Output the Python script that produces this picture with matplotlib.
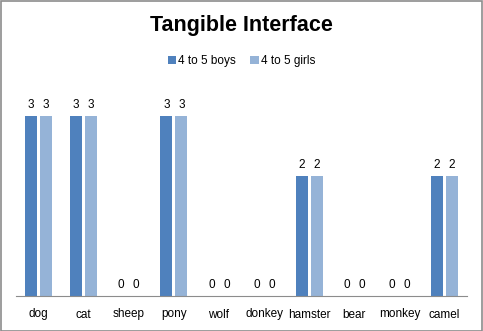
import numpy as np
import matplotlib
matplotlib.use("Agg")
import matplotlib.pyplot as plt
from matplotlib.patches import Rectangle

# data
animals = ["dog", "cat", "sheep", "pony", "wolf", "donkey", "hamster", "bear", "monkey", "camel"]
boys = [3, 3, 0, 3, 0, 0, 2, 0, 0, 2]
girls = [3, 3, 0, 3, 0, 0, 2, 0, 0, 2]
series_names = ["4 to 5 boys", "4 to 5 girls"]
colors = ["#4F81BD", "#95B3D7"]

plt.rcParams['font.family'] = ['Liberation Sans Narrow', 'Liberation Sans', 'DejaVu Sans']

W, H = 483, 331
fig = plt.figure(figsize=(W / 100, H / 100), dpi=100)
fig.patches.append(Rectangle((0.5 / W, 0.5 / H), 1 - 1.5 / W, 1 - 1.5 / H, transform=fig.transFigure,
                             fill=False, edgecolor="#8c8c8c", lw=1.2))

ax = fig.add_axes([16 / W, (H - 296) / H, (467 - 16) / W, (296 - 86) / H])
x = np.arange(len(animals))
bw = 0.27
off = 0.165
for vals, dx, c, name in [(boys, -off, colors[0], series_names[0]), (girls, off, colors[1], series_names[1])]:
    bars = ax.bar(x + dx, vals, bw, color=c, label=name)
    for xi, v in zip(x + dx, vals):
        ax.text(xi, v + 0.09, str(v), ha="center", va="bottom", fontsize=8.5)

ax.set_xlim(-0.5, len(animals) - 0.5)
ax.set_ylim(0, 3.5)
ax.set_yticks([])
ax.set_xticks(x)
ax.set_xticklabels(animals, fontsize=8.5)
ax.tick_params(axis="x", length=0, pad=9)
for s in ["top", "right", "left"]:
    ax.spines[s].set_visible(False)
ax.spines["bottom"].set_color("#8c8c8c")

fig.text(0.5, 1 - 26 / H, "Tangible Interface", ha="center", va="center", fontsize=15.5, fontweight="bold")
fig.legend(loc="center", bbox_to_anchor=(0.5, 1 - 61 / H), ncol=2, frameon=False, fontsize=8.5,
           handlelength=0.7, handleheight=0.7, handletextpad=0.2, columnspacing=1.2)

fig.savefig("out.png", dpi=100)
